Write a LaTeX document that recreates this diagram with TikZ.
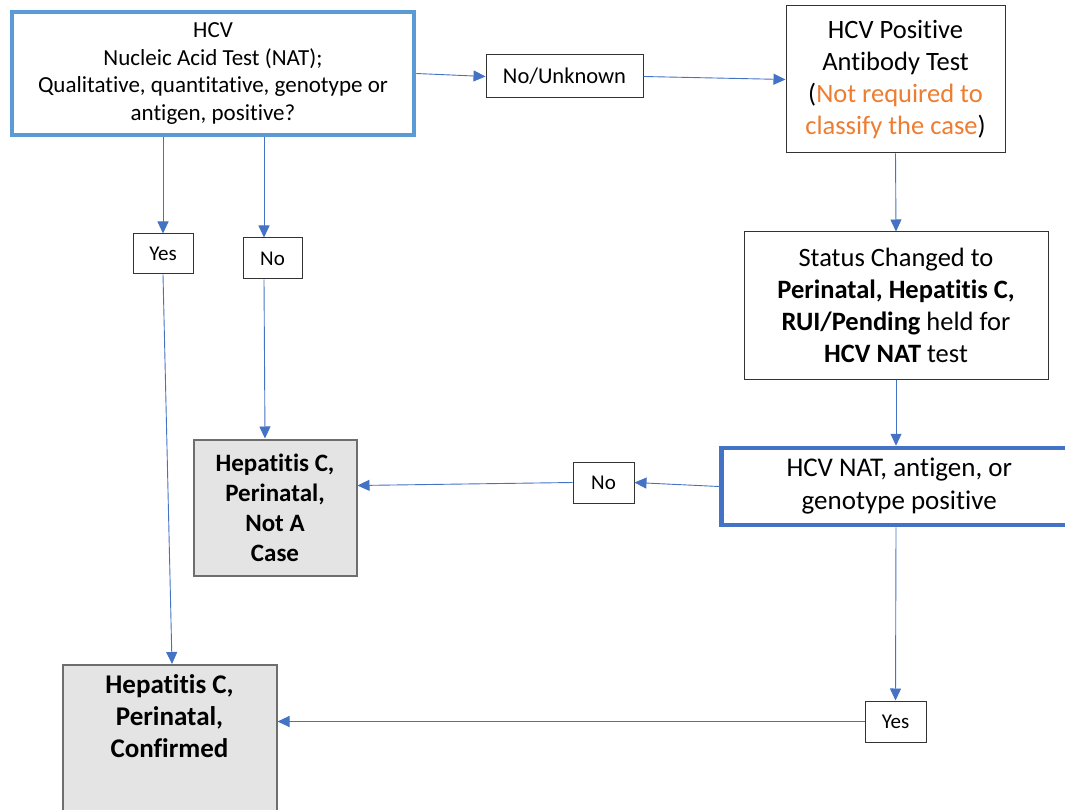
\documentclass[tikz,border=0pt]{standalone}
\usepackage{fontspec}
\setmainfont{Carlito}[Ligatures=NoCommon]
\usetikzlibrary{arrows.meta,positioning,calc}
\definecolor{lblue}{HTML}{5B9BD5}
\definecolor{dblue}{HTML}{4472C4}
\definecolor{orng}{HTML}{ED7D31}
\definecolor{gfill}{HTML}{E4E4E4}
\definecolor{gline}{HTML}{6E6E6E}
\begin{document}
\begin{tikzpicture}[x=1pt,y=-1pt,
  plainbox/.style={draw=black!80,line width=1pt,fill=white,align=center,inner sep=0pt},
  thickbox/.style={draw=#1,line width=4.5pt,fill=white,align=center,inner sep=0pt},
  graybox/.style={draw=gline,line width=2pt,fill=gfill,align=center,inner sep=0pt},
  lbl/.style={plainbox,font=\fontsize{21}{24}\selectfont},
  conn/.style={draw=dblue,line width=0.9pt,-{Triangle[length=12pt,width=11pt]}}
]
\useasboundingbox (0,0) rectangle (1065,810);

\node[thickbox=lblue,minimum width=402pt,minimum height=123pt,font=\fontsize{23}{27.5}\selectfont] (top) at (213,73.5)
  {HCV\\Nucleic Acid Test (NAT);\\Qualitative, quantitative, genotype or\\antigen, positive?};

\node[lbl,minimum width=157pt,minimum height=43pt,font=\fontsize{22.5}{24}\selectfont] (nounk) at (564.5,76.5) {No/Unknown};

\node[plainbox,minimum width=219pt,minimum height=147pt,font=\fontsize{26.5}{32}\selectfont] (anti) at (895.5,79.5)
  {HCV Positive\\Antibody Test\\(\textcolor{orng}{Not required to}\\\textcolor{orng}{classify the case})};

\node[lbl,minimum width=60pt,minimum height=40pt] (yes1) at (163,254) {Yes};
\node[lbl,minimum width=59pt,minimum height=41pt] (no1) at (272.5,258.5) {No};

\node[plainbox,minimum width=304pt,minimum height=147pt,font=\fontsize{26.5}{32}\selectfont] (stat) at (896,305.5)
  {Status Changed to\\\textbf{Perinatal, Hepatitis C,}\\\textbf{RUI/Pending} held for\\\textbf{HCV NAT} test};

\node[thickbox=dblue,minimum width=356pt,minimum height=77pt,font=\fontsize{27}{33}\selectfont,anchor=west] (nat) at (719,486.5)
  {HCV NAT, antigen, or\\genotype positive};

\node[lbl,minimum width=61pt,minimum height=41pt] (no2) at (603.5,482.5) {No};

\node[graybox,minimum width=163pt,minimum height=136pt,font=\fontsize{25}{30}\selectfont\bfseries] (nac) at (275,507.5)
  {Hepatitis C,\\Perinatal,\\Not A\\Case};

\node[graybox,minimum width=214pt,minimum height=170pt,anchor=north,font=\fontsize{27}{32}\selectfont\bfseries] (conf) at (169.5,664)
  {Hepatitis C,\\Perinatal,\\Confirmed\\[36pt]};

\node[lbl,minimum width=61pt,minimum height=41pt] (yes2) at (895.5,721.5) {Yes};

% connectors
\draw[conn] (top.east) -- (nounk.west);
\draw[conn] (nounk.east) -- (anti.west);
\draw[conn] (top.south -| yes1.north) -- (yes1.north);
\draw[conn] ($(top.south)+(51,0)$) -- ($(no1.north)+(-8.5,0)$);
\draw[conn] ($(no1.south)+(-8.5,0)$) -- ($(nac.north)+(-10,0)$);
\draw[conn] (yes1.south) -- ($(conf.north)+(2.5,0)$);
\draw[conn] (anti.south) -- (stat.north);
\draw[conn] (stat.south) -- (stat.south |- nat.north);
\draw[conn] (nat.west) -- (no2.east);
\draw[conn] (no2.west) -- ($(nac.east)+(0,-22)$);
\draw[conn] (stat.south |- nat.south) -- (yes2.north);
\draw[conn] (yes2.west) -- (yes2.west -| conf.east);
\end{tikzpicture}
\end{document}
